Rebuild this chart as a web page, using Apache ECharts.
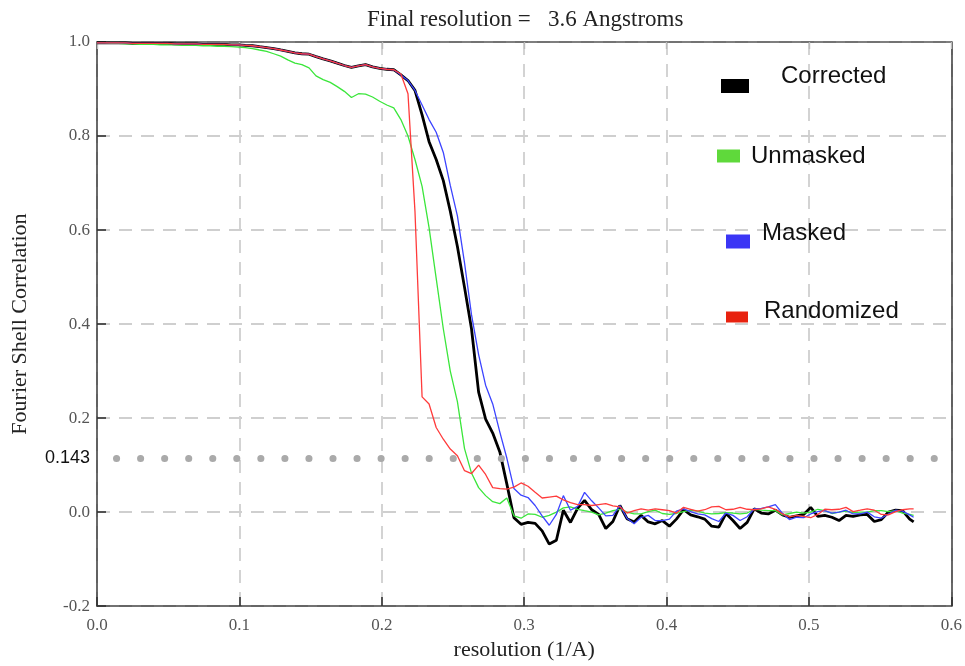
<!DOCTYPE html>
<html><head><meta charset="utf-8">
<script src="https://cdn.jsdelivr.net/npm/echarts@6/dist/echarts.min.js"></script>
<style>html,body{margin:0;padding:0;background:#fff;overflow:hidden}#c{width:965px;height:666px}</style>
</head><body><div id="c"></div>
<script>
// Spatial frequency samples (1/A)
const resolution = [0,0.0050,0.0099,0.0149,0.0199,0.0248,0.0298,0.0347,0.0397,0.0447,
0.0496,0.0546,0.0596,0.0645,0.0695,0.0744,0.0794,0.0844,0.0893,0.0943,
0.0993,0.1042,0.1092,0.1141,0.1191,0.1241,0.1290,0.1340,0.1390,0.1439,
0.1489,0.1538,0.1588,0.1638,0.1687,0.1737,0.1787,0.1836,0.1886,0.1935,
0.1985,0.2035,0.2084,0.2134,0.2184,0.2233,0.2283,0.2332,0.2382,0.2432,
0.2481,0.2531,0.2581,0.2630,0.2680,0.2729,0.2779,0.2829,0.2878,0.2928,
0.2978,0.3027,0.3077,0.3126,0.3176,0.3226,0.3275,0.3325,0.3375,0.3424,
0.3474,0.3523,0.3573,0.3623,0.3672,0.3722,0.3772,0.3821,0.3871,0.3920,
0.3970,0.4020,0.4069,0.4119,0.4169,0.4218,0.4268,0.4317,0.4367,0.4417,
0.4466,0.4516,0.4566,0.4615,0.4665,0.4714,0.4764,0.4814,0.4863,0.4913,
0.4963,0.5012,0.5062,0.5111,0.5161,0.5211,0.5260,0.5310,0.5360,0.5409,
0.5459,0.5508,0.5558,0.5608,0.5657,0.5707,0.5735];

const corrected = [0.998,0.998,0.998,0.998,0.998,0.997,0.997,0.997,0.997,0.997,
0.997,0.996,0.996,0.996,0.996,0.995,0.995,0.995,0.995,0.994,
0.994,0.993,0.992,0.990,0.988,0.986,0.983,0.980,0.977,0.975,
0.974,0.969,0.964,0.960,0.955,0.950,0.946,0.949,0.952,0.947,
0.944,0.942,0.941,0.930,0.918,0.897,0.845,0.788,0.750,0.705,
0.640,0.565,0.478,0.390,0.255,0.198,0.168,0.128,0.060,-0.012,
-0.026,-0.022,-0.024,-0.040,-0.068,-0.060,0.004,-0.022,0.008,0.025,
0.005,-0.005,-0.035,-0.020,0.014,-0.014,-0.021,-0.007,-0.021,-0.025,
-0.018,-0.030,-0.015,0.005,-0.006,-0.010,-0.015,-0.030,-0.032,-0.003,
-0.018,-0.035,-0.022,0.007,-0.002,-0.004,0.004,-0.006,-0.011,-0.008,
-0.005,0.010,-0.009,-0.007,-0.011,-0.018,-0.007,-0.009,-0.006,-0.005,
-0.020,-0.016,0.000,0.004,0.003,-0.015,-0.021];

const unmasked = [0.998,0.998,0.997,0.997,0.996,0.996,0.995,0.995,0.995,0.994,
0.994,0.994,0.993,0.993,0.993,0.992,0.992,0.991,0.991,0.990,
0.989,0.988,0.986,0.983,0.980,0.975,0.970,0.962,0.955,0.952,
0.945,0.928,0.920,0.914,0.905,0.895,0.882,0.890,0.889,0.883,
0.874,0.866,0.860,0.835,0.800,0.750,0.693,0.605,0.497,0.390,
0.300,0.235,0.135,0.083,0.052,0.035,0.022,0.018,0.030,-0.008,
-0.013,-0.004,-0.005,-0.011,-0.007,0.000,0.009,0.011,0.006,0.003,
0.000,-0.006,-0.002,0.003,0.006,0.000,-0.004,-0.004,0.001,0.004,
-0.003,-0.005,-0.003,0.001,0.004,0.002,-0.002,-0.004,-0.003,-0.001,
-0.002,-0.004,-0.002,0.006,0.004,0.003,0.003,-0.006,-0.003,0.000,
-0.002,0.000,0.006,0.003,-0.003,0.000,0.002,-0.001,0.000,0.000,
0.003,0.003,0.001,0.003,-0.002,-0.005,-0.007];

const masked = [0.998,0.998,0.998,0.998,0.998,0.997,0.997,0.997,0.997,0.997,
0.997,0.996,0.996,0.996,0.996,0.995,0.995,0.995,0.995,0.994,
0.994,0.993,0.992,0.990,0.988,0.986,0.983,0.980,0.977,0.975,
0.974,0.969,0.964,0.960,0.955,0.950,0.946,0.949,0.952,0.947,
0.944,0.942,0.941,0.930,0.918,0.897,0.866,0.835,0.808,0.765,
0.695,0.630,0.530,0.420,0.335,0.270,0.230,0.170,0.115,0.050,
0.036,0.031,0.014,-0.008,-0.028,-0.005,0.035,0.004,0.012,0.042,
0.024,0.009,-0.008,-0.007,0.014,-0.013,-0.025,-0.011,-0.007,-0.018,
-0.018,-0.015,0.002,0.007,0.001,-0.004,-0.006,-0.014,-0.020,-0.002,
-0.007,-0.018,-0.010,0.007,0.008,0.011,0.016,-0.003,-0.016,-0.011,
-0.012,-0.004,0.001,0.003,-0.002,0.000,0.004,-0.004,-0.004,0.000,
-0.010,-0.013,-0.004,0.004,0.002,-0.006,-0.011];

const randomized = [0.998,0.998,0.998,0.998,0.998,0.997,0.997,0.997,0.997,0.997,
0.997,0.996,0.996,0.996,0.996,0.995,0.995,0.995,0.995,0.994,
0.994,0.993,0.992,0.990,0.988,0.986,0.983,0.980,0.977,0.975,
0.974,0.969,0.964,0.960,0.955,0.950,0.946,0.949,0.952,0.947,
0.944,0.942,0.941,0.932,0.890,0.640,0.245,0.230,0.180,0.155,
0.134,0.120,0.088,0.082,0.100,0.080,0.052,0.050,0.049,0.053,
0.062,0.055,0.042,0.030,0.032,0.034,0.026,0.020,0.016,0.016,
0.014,0.016,0.018,0.013,0.011,-0.002,0.003,0.007,0.004,0.007,
0.005,0.003,-0.002,0.010,0.006,0.002,0.005,0.011,0.012,0.005,
0.006,0.010,0.006,0.005,0.007,0.011,0.006,-0.004,-0.010,-0.007,
-0.009,-0.012,-0.005,0.006,0.005,0.006,0.010,0.001,0.004,0.007,
0.004,-0.005,-0.006,0.001,0.005,0.007,0.007];

const seriesNames = ['Corrected', 'Unmasked', 'Masked', 'Randomized'];
const titleText = 'Final resolution =   3.6 Angstroms';
const xAxisName = 'resolution (1/A)';
const yAxisName = 'Fourier Shell Correlation';
const thresholdLabel = '0.143';
const thresholdPos = 0.115;   // height at which the dotted threshold line is drawn in the figure

const serif = 'Liberation Serif';
const sans = 'Liberation Sans';

function pairs(ys) { return resolution.map((x, i) => [x, ys[i]]); }

const lineStyles = {
  Corrected:  {color: '#000000', width: 2.8},
  Unmasked:   {color: '#3be63b', width: 1.3},
  Masked:     {color: '#3c44ff', width: 1.3},
  Randomized: {color: '#ff3b3b', width: 1.3}
};
const seriesData = {Corrected: corrected, Unmasked: unmasked, Masked: masked, Randomized: randomized};

// lh: line height of a two-line label (second line empty) used to raise the text above the swatch
const legendLayout = [
  {name: 'Corrected',  left: 721, top: 64,  w: 28, h: 14, pl: 27, lh: 20, color: '#000000'},
  {name: 'Unmasked',   left: 717, top: 144, w: 23, h: 13, pl: 6,  lh: 0,  color: '#5fd93b'},
  {name: 'Masked',     left: 726, top: 221, w: 24, h: 14, pl: 7,  lh: 17, color: '#3b36f5'},
  {name: 'Randomized', left: 726, top: 299, w: 22, h: 11, pl: 11, lh: 12, color: '#e8220f'}
];

const chart = echarts.init(document.getElementById('c'), null, {renderer: 'canvas'});

const series = seriesNames.map((n, k) => ({
  name: n, type: 'line', data: pairs(seriesData[n]),
  symbol: 'none', showSymbol: false, smooth: false,
  lineStyle: lineStyles[n], itemStyle: {color: lineStyles[n].color},
  z: 2 + k, animation: false, silent: true
}));
series[0].markLine = {
  silent: true, symbol: 'none', animation: false,
  label: {show: true, position: 'start', formatter: thresholdLabel, distance: 7,
          fontFamily: sans, fontSize: 18, color: '#111'},
  lineStyle: {color: '#aaaaaa', width: 7, type: [0.1, 23.95], cap: 'round', dashOffset: 4.55, opacity: 1},
  emphasis: {disabled: true},
  data: [[{coord: [0, thresholdPos]}, {coord: [0.6, thresholdPos]}]]
};

const axisLabelStyle = {fontFamily: serif, fontSize: 17, color: '#555'};

chart.setOption({
  backgroundColor: '#ffffff',
  animation: false,
  title: {text: titleText, left: 362, top: 3,
          textStyle: {fontFamily: serif, fontSize: 23, fontWeight: 'normal', color: '#222'}},
  grid: {left: 97, top: 42, width: 858, height: 569, containLabel: false},
  legend: legendLayout.map(l => ({
    data: [{name: l.name, itemStyle: {color: l.color, borderWidth: 0}}],
    left: l.left, top: l.top, itemWidth: l.w, itemHeight: l.h, icon: 'rect',
    padding: 0, selectedMode: false,
    formatter: l.lh ? (n => n + '\n') : (n => n),
    textStyle: {fontFamily: sans, fontSize: 24, color: '#111', lineHeight: l.lh || 24,
                padding: [0, 0, 0, l.pl]}
  })),
  xAxis: [{
    type: 'value', position: 'bottom', min: 0, max: 0.6, interval: 0.1,
    name: xAxisName, nameLocation: 'middle', nameGap: 27,
    nameTextStyle: {fontFamily: serif, fontSize: 22, color: '#222'},
    axisLine: {show: true, onZero: false, lineStyle: {color: '#444', width: 1.6}},
    axisTick: {show: true, inside: true, length: 9, lineStyle: {color: '#333', width: 1.6}},
    axisLabel: Object.assign({margin: 11, formatter: v => v.toFixed(1)}, axisLabelStyle),
    splitLine: {show: true, lineStyle: {color: '#cfcfcf', width: 1.8, type: [13, 9]}}
  }, {
    type: 'value', position: 'top', min: 0, max: 0.6, interval: 0.1,
    axisLine: {show: true, onZero: false, lineStyle: {color: '#555', width: 1.6}},
    axisTick: {show: true, inside: true, length: 7, lineStyle: {color: '#bbb', width: 1.4}},
    axisLabel: {show: false}, splitLine: {show: false}
  }],
  yAxis: [{
    type: 'value', position: 'left', min: -0.2, max: 1.0, interval: 0.2,
    name: yAxisName, nameLocation: 'middle', nameGap: 66,
    nameTextStyle: {fontFamily: serif, fontSize: 22, color: '#222'},
    axisLine: {show: true, onZero: false, lineStyle: {color: '#444', width: 1.6}},
    axisTick: {show: true, inside: true, length: 9, lineStyle: {color: '#333', width: 1.6}},
    axisLabel: Object.assign({margin: 7, formatter: v => v.toFixed(1)}, axisLabelStyle),
    splitLine: {show: true, lineStyle: {color: '#cfcfcf', width: 1.8, type: [13, 9]}}
  }, {
    type: 'value', position: 'right', min: -0.2, max: 1.0, interval: 0.2,
    axisLine: {show: true, onZero: false, lineStyle: {color: '#444', width: 1.6}},
    axisTick: {show: false}, axisLabel: {show: false}, splitLine: {show: false}
  }],
  series: series
});
</script></body></html>
